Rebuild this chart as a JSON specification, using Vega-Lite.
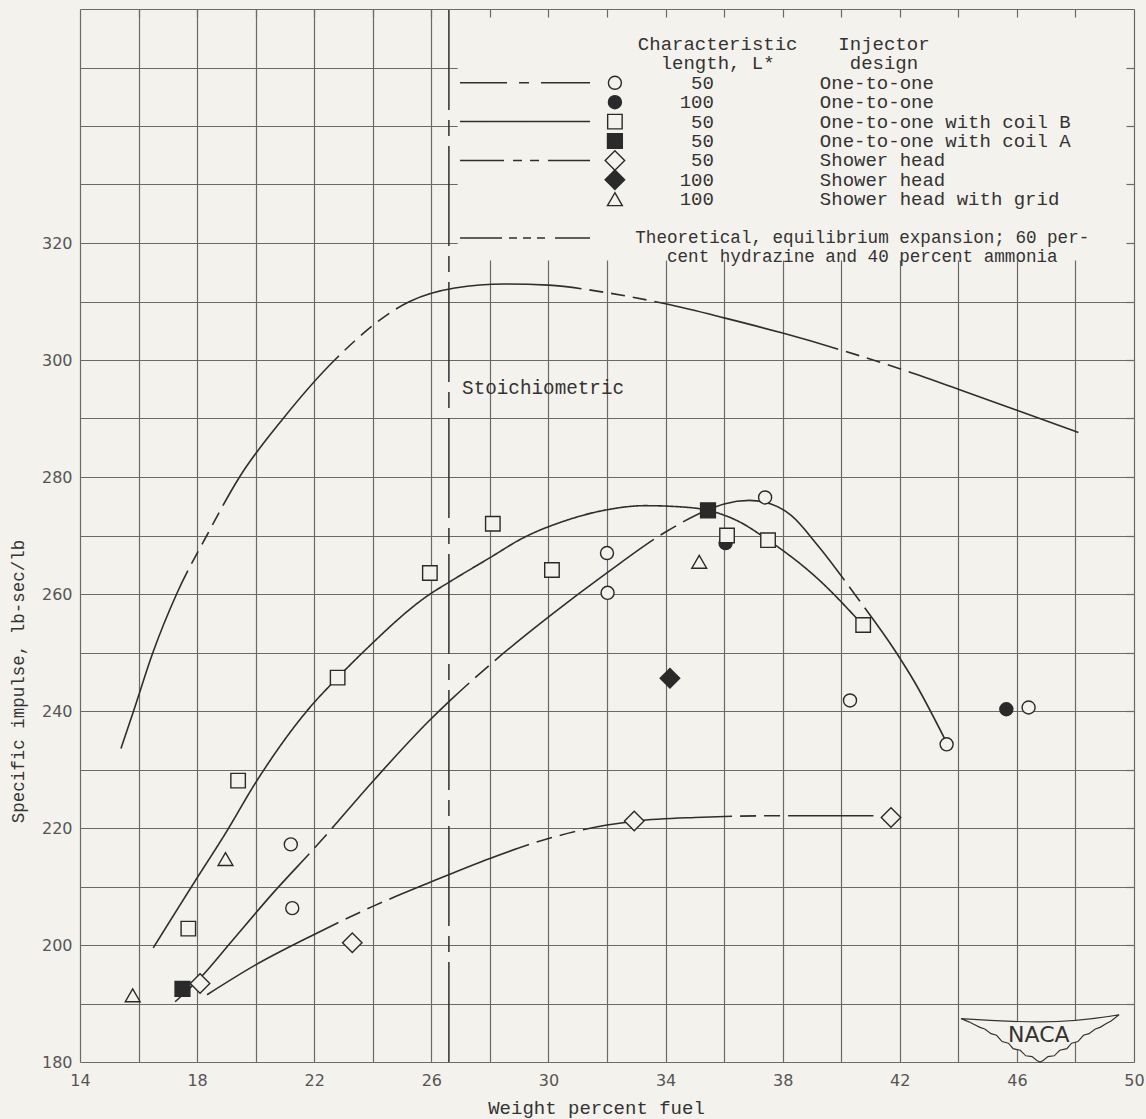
{
"$schema":"https://vega.github.io/schema/vega-lite/v6.json",
"width":1054,"height":1053,
"autosize":{"type":"none"},
"padding":{"left":80,"top":9,"right":12,"bottom":57},
"background":"#f4f2ed",
"config":{"view":{"stroke":null}},
"datasets":{
"points":[
{"series":"One-to-one, 50","fuel":21.2,"isp":217.2},
{"series":"One-to-one, 50","fuel":21.25,"isp":206.3},
{"series":"One-to-one, 50","fuel":32.0,"isp":267.0},
{"series":"One-to-one, 50","fuel":32.02,"isp":260.2},
{"series":"One-to-one, 50","fuel":37.4,"isp":276.5},
{"series":"One-to-one, 50","fuel":40.3,"isp":241.8},
{"series":"One-to-one, 50","fuel":43.6,"isp":234.3},
{"series":"One-to-one, 50","fuel":46.4,"isp":240.6},
{"series":"One-to-one, 100","fuel":36.05,"isp":268.7},
{"series":"One-to-one, 100","fuel":45.64,"isp":240.3},
{"series":"One-to-one with coil B, 50","fuel":17.7,"isp":202.8},
{"series":"One-to-one with coil B, 50","fuel":19.4,"isp":228.1},
{"series":"One-to-one with coil B, 50","fuel":22.8,"isp":245.7},
{"series":"One-to-one with coil B, 50","fuel":25.95,"isp":263.6},
{"series":"One-to-one with coil B, 50","fuel":28.1,"isp":272.0},
{"series":"One-to-one with coil B, 50","fuel":30.12,"isp":264.1},
{"series":"One-to-one with coil B, 50","fuel":36.1,"isp":270.0},
{"series":"One-to-one with coil B, 50","fuel":37.5,"isp":269.2},
{"series":"One-to-one with coil B, 50","fuel":40.75,"isp":254.7},
{"series":"One-to-one with coil A, 50","fuel":17.5,"isp":192.5},
{"series":"One-to-one with coil A, 50","fuel":35.45,"isp":274.3},
{"series":"Shower head, 50","fuel":18.1,"isp":193.4},
{"series":"Shower head, 50","fuel":23.3,"isp":200.4},
{"series":"Shower head, 50","fuel":32.93,"isp":221.2},
{"series":"Shower head, 50","fuel":41.7,"isp":221.8},
{"series":"Shower head, 100","fuel":34.15,"isp":245.6},
{"series":"Shower head with grid, 100","fuel":15.8,"isp":191.4},
{"series":"Shower head with grid, 100","fuel":18.97,"isp":214.7},
{"series":"Shower head with grid, 100","fuel":35.15,"isp":265.5}
],
"curves":[
{"curve":"Theoretical","fuel":15.4,"isp":233.6},
{"curve":"Theoretical","fuel":15.83,"isp":240.0},
{"curve":"Theoretical","fuel":16.49,"isp":250.0},
{"curve":"Theoretical","fuel":17.3,"isp":260.0},
{"curve":"Theoretical","fuel":18.33,"isp":270.0},
{"curve":"Theoretical","fuel":19.45,"isp":280.0},
{"curve":"Theoretical","fuel":20.94,"isp":290.0},
{"curve":"Theoretical","fuel":22.7,"isp":300.0},
{"curve":"Theoretical","fuel":25.26,"isp":310.0},
{"curve":"Theoretical","fuel":26.8,"isp":312.3},
{"curve":"Theoretical","fuel":28.5,"isp":313.0},
{"curve":"Theoretical","fuel":30.0,"isp":312.8},
{"curve":"Theoretical","fuel":32.0,"isp":311.5},
{"curve":"Theoretical","fuel":34.0,"isp":309.6},
{"curve":"Theoretical","fuel":36.0,"isp":307.2},
{"curve":"Theoretical","fuel":38.0,"isp":304.6},
{"curve":"Theoretical","fuel":40.0,"isp":301.7},
{"curve":"Theoretical","fuel":42.0,"isp":298.5},
{"curve":"Theoretical","fuel":44.0,"isp":295.0},
{"curve":"Theoretical","fuel":46.0,"isp":291.4},
{"curve":"Theoretical","fuel":48.1,"isp":287.6},
{"curve":"One-to-one with coil B, 50","fuel":16.5,"isp":199.5},
{"curve":"One-to-one with coil B, 50","fuel":17.94,"isp":211.0},
{"curve":"One-to-one with coil B, 50","fuel":18.97,"isp":219.1},
{"curve":"One-to-one with coil B, 50","fuel":20.03,"isp":228.0},
{"curve":"One-to-one with coil B, 50","fuel":21.85,"isp":240.6},
{"curve":"One-to-one with coil B, 50","fuel":22.8,"isp":245.7},
{"curve":"One-to-one with coil B, 50","fuel":23.78,"isp":250.6},
{"curve":"One-to-one with coil B, 50","fuel":25.9,"isp":259.8},
{"curve":"One-to-one with coil B, 50","fuel":26.6,"isp":262.0},
{"curve":"One-to-one with coil B, 50","fuel":28.0,"isp":266.2},
{"curve":"One-to-one with coil B, 50","fuel":29.14,"isp":269.6},
{"curve":"One-to-one with coil B, 50","fuel":30.5,"isp":272.4},
{"curve":"One-to-one with coil B, 50","fuel":32.0,"isp":274.4},
{"curve":"One-to-one with coil B, 50","fuel":33.3,"isp":275.1},
{"curve":"One-to-one with coil B, 50","fuel":34.5,"isp":274.9},
{"curve":"One-to-one with coil B, 50","fuel":35.45,"isp":274.3},
{"curve":"One-to-one with coil B, 50","fuel":36.5,"isp":272.4},
{"curve":"One-to-one with coil B, 50","fuel":37.45,"isp":269.4},
{"curve":"One-to-one with coil B, 50","fuel":39.2,"isp":262.6},
{"curve":"One-to-one with coil B, 50","fuel":40.7,"isp":254.9},
{"curve":"One-to-one, 50","fuel":17.25,"isp":190.3},
{"curve":"One-to-one, 50","fuel":18.11,"isp":194.4},
{"curve":"One-to-one, 50","fuel":19.19,"isp":200.7},
{"curve":"One-to-one, 50","fuel":20.56,"isp":208.7},
{"curve":"One-to-one, 50","fuel":22.14,"isp":217.3},
{"curve":"One-to-one, 50","fuel":24.06,"isp":228.3},
{"curve":"One-to-one, 50","fuel":25.9,"isp":238.2},
{"curve":"One-to-one, 50","fuel":26.6,"isp":241.6},
{"curve":"One-to-one, 50","fuel":28.0,"isp":247.9},
{"curve":"One-to-one, 50","fuel":30.06,"isp":256.3},
{"curve":"One-to-one, 50","fuel":32.02,"isp":263.7},
{"curve":"One-to-one, 50","fuel":34.0,"isp":270.6},
{"curve":"One-to-one, 50","fuel":35.45,"isp":274.4},
{"curve":"One-to-one, 50","fuel":36.0,"isp":275.4},
{"curve":"One-to-one, 50","fuel":36.86,"isp":276.0},
{"curve":"One-to-one, 50","fuel":37.6,"isp":275.4},
{"curve":"One-to-one, 50","fuel":38.3,"isp":273.4},
{"curve":"One-to-one, 50","fuel":39.2,"isp":268.3},
{"curve":"One-to-one, 50","fuel":40.5,"isp":259.7},
{"curve":"One-to-one, 50","fuel":41.8,"isp":250.6},
{"curve":"One-to-one, 50","fuel":42.5,"isp":245.0},
{"curve":"One-to-one, 50","fuel":43.6,"isp":234.6},
{"curve":"Shower head, 50","fuel":18.34,"isp":191.5},
{"curve":"Shower head, 50","fuel":20.0,"isp":196.6},
{"curve":"Shower head, 50","fuel":22.0,"isp":201.8},
{"curve":"Shower head, 50","fuel":24.0,"isp":206.6},
{"curve":"Shower head, 50","fuel":26.0,"isp":210.8},
{"curve":"Shower head, 50","fuel":28.0,"isp":214.8},
{"curve":"Shower head, 50","fuel":30.0,"isp":218.2},
{"curve":"Shower head, 50","fuel":32.0,"isp":220.5},
{"curve":"Shower head, 50","fuel":33.0,"isp":221.2},
{"curve":"Shower head, 50","fuel":35.0,"isp":221.8},
{"curve":"Shower head, 50","fuel":38.0,"isp":222.1},
{"curve":"Shower head, 50","fuel":41.1,"isp":222.1}
],
"legend":[
{"row":1,"series":"One-to-one, 50","lstar":"50","injector":"One-to-one"},
{"row":2,"series":"One-to-one, 100","lstar":"100","injector":"One-to-one"},
{"row":3,"series":"One-to-one with coil B, 50","lstar":"50","injector":"One-to-one with coil B"},
{"row":4,"series":"One-to-one with coil A, 50","lstar":"50","injector":"One-to-one with coil A"},
{"row":5,"series":"Shower head, 50","lstar":"50","injector":"Shower head"},
{"row":6,"series":"Shower head, 100","lstar":"100","injector":"Shower head"},
{"row":7,"series":"Shower head with grid, 100","lstar":"100","injector":"Shower head with grid"}
],
"legendLines":[
{"row":1,"curve":"One-to-one, 50"},
{"row":3,"curve":"One-to-one with coil B, 50"},
{"row":5,"curve":"Shower head, 50"},
{"row":9,"curve":"Theoretical"}
],
"notes":[
{"row":9,"text":"Theoretical, equilibrium expansion; 60 per-"},
{"row":10,"text":"cent hydrazine and 40 percent ammonia"}
]
},
"layer":[
{"data":{"values":[{}]},
 "mark":{"type":"rect","fill":"#f4f2ed"},
 "encoding":{
  "x":{"datum":26.9,"type":"quantitative","scale":{"domain":[14,50],"nice":false,"zero":false},
   "axis":{"orient":"bottom","values":[14,16,18,20,22,24,26,28,30,32,34,36,38,40,42,44,46,48,50],"grid":true,"gridColor":"#6a6a6a","gridWidth":1.2,"gridOpacity":1,"ticks":false,"domain":false,
    "labelExpr":"(datum.value - 14) % 4 == 0 ? datum.label : ''","labelOverlap":false,"labelFlush":false,"labelBound":false,
    "labelFont":"DejaVu Sans","labelFontSize":16,"labelColor":"#555","labelPadding":10,
    "title":"Weight percent fuel","titleFont":"Liberation Mono","titleFontSize":19,"titleFontWeight":"normal","titleColor":"#333","titleX":516,"titleY":45,"titleBaseline":"middle","zindex":0}},
  "x2":{"datum":49.96},
  "y":{"datum":317,"type":"quantitative","scale":{"domain":[180,360],"nice":false,"zero":false},
   "axis":{"orient":"left","values":[180,190,200,210,220,230,240,250,260,270,280,290,300,310,320,330,340,350,360],"grid":true,"gridColor":"#6a6a6a","gridWidth":1.2,"gridOpacity":1,"ticks":false,"domain":false,
    "labelExpr":"datum.value <= 320 && datum.value % 20 == 0 ? datum.label : ''","labelOverlap":false,"labelFlush":false,"labelBound":false,
    "labelFont":"DejaVu Sans","labelFontSize":16,"labelColor":"#555","labelPadding":8,
    "title":"Specific impulse, lb-sec/lb","titleFont":"Liberation Mono","titleFontSize":17.5,"titleFontWeight":"normal","titleColor":"#333","titleX":-62,"titleY":672,"titleBaseline":"middle","zindex":0}},
  "y2":{"datum":359.85}}},
{"data":{"values":[{}]},
 "mark":{"type":"rule","strokeWidth":1.5,"color":"#2e2e2e","strokeDash":[100,10,16,10]},
 "encoding":{
  "x":{"datum":26.6,"type":"quantitative","scale":{"domain":[14,50],"nice":false,"zero":false},
   "axis":{"orient":"top","values":[16,18,20,22,24,26,28,30,32,34,36,38,40,42,44,46,48],"grid":false,"labels":false,"domain":false,"ticks":true,"tickSize":-8,"tickColor":"#6a6a6a","tickWidth":1.2,"title":null,"zindex":1}},
  "y":{"datum":180,"type":"quantitative","scale":{"domain":[180,360],"nice":false,"zero":false},
   "axis":{"orient":"right","values":[190,200,210,220,230,240,250,260,270,280,290,300,310,320,330,340,350],"grid":false,"labels":false,"domain":false,"ticks":true,"tickSize":-8,"tickColor":"#6a6a6a","tickWidth":1.2,"title":null,"zindex":1}},
  "y2":{"datum":360}}},
{"data":{"name":"curves"},
 "mark":{"type":"line","interpolate":"monotone","strokeWidth":1.6,"color":"#2e2e2e"},
 "encoding":{
  "x":{"field":"fuel","type":"quantitative","scale":{"domain":[14,50],"nice":false,"zero":false},"axis":null},
  "y":{"field":"isp","type":"quantitative","scale":{"domain":[180,360],"nice":false,"zero":false},"axis":null},
  "strokeDash":{"field":"curve","type":"nominal","legend":null,
   "scale":{"domain":["One-to-one, 50","One-to-one with coil B, 50","Shower head, 50","Theoretical"],
    "range":[[200,8,18,8],[1,0],[150,8,16,8,16,8],[190,8,14,8,14,8,14,8]]}}}},
{"data":{"name":"points"},
 "mark":{"type":"point","filled":true,"stroke":"#2a2a2a","strokeWidth":1.4,"opacity":1},
 "encoding":{
  "x":{"field":"fuel","type":"quantitative","scale":{"domain":[14,50],"nice":false,"zero":false},"axis":null},
  "y":{"field":"isp","type":"quantitative","scale":{"domain":[180,360],"nice":false,"zero":false},"axis":null},
  "shape":{"field":"series","type":"nominal","legend":null,
   "scale":{"domain":["One-to-one, 50","One-to-one, 100","One-to-one with coil B, 50","One-to-one with coil A, 50","Shower head, 50","Shower head, 100","Shower head with grid, 100"],
    "range":["circle","circle","square","square","diamond","diamond","triangle-up"]}},
  "fill":{"field":"series","type":"nominal","legend":null,
   "scale":{"domain":["One-to-one, 50","One-to-one, 100","One-to-one with coil B, 50","One-to-one with coil A, 50","Shower head, 50","Shower head, 100","Shower head with grid, 100"],
    "range":["#f4f2ed","#2a2a2a","#f4f2ed","#2a2a2a","#f4f2ed","#2a2a2a","#f4f2ed"]}},
  "size":{"field":"series","type":"ordinal","legend":null,
   "scale":{"type":"ordinal","domain":["One-to-one, 50","One-to-one, 100","One-to-one with coil B, 50","One-to-one with coil A, 50","Shower head, 50","Shower head, 100","Shower head with grid, 100"],
    "range":[170,170,210,220,380,380,220]}}}},
{"data":{"values":[{}]},
 "mark":{"type":"text","text":"Stoichiometric","align":"left","baseline":"middle","font":"Liberation Mono","fontSize":19.3,"fill":"#333"},
 "encoding":{
  "x":{"datum":27.05,"type":"quantitative","scale":{"domain":[14,50],"nice":false,"zero":false},"axis":null},
  "y":{"datum":295.2,"type":"quantitative","scale":{"domain":[180,360],"nice":false,"zero":false},"axis":null}}},
{"data":{"values":[{}]},
 "mark":{"type":"point","shape":"M-1,-0.23 C-0.6,-0.2 -0.3,-0.19 0,-0.19 C0.3,-0.19 0.6,-0.21 1,-0.28 L0.9,-0.2 L0.84,-0.17 L0.76,-0.12 L0.7,-0.1 L0.62,-0.04 L0.55,-0.02 L0.48,0.06 L0.4,0.08 L0.34,0.15 L0.25,0.17 L0.18,0.24 L0.1,0.25 L0.04,0.3 L0,0.32 L-0.04,0.3 L-0.1,0.25 L-0.18,0.24 L-0.25,0.17 L-0.34,0.15 L-0.4,0.08 L-0.48,0.06 L-0.55,-0.02 L-0.62,-0.04 L-0.7,-0.1 L-0.76,-0.12 L-0.84,-0.16 L-0.9,-0.19 Z","size":24964,"filled":true,"fill":"#f4f2ed","stroke":"#333","strokeWidth":1.2,"opacity":1},
 "encoding":{
  "x":{"datum":46.79,"type":"quantitative","scale":{"domain":[14,50],"nice":false,"zero":false},"axis":null},
  "y":{"datum":184.3,"type":"quantitative","scale":{"domain":[180,360],"nice":false,"zero":false},"axis":null}}},
{"data":{"values":[{}]},
 "mark":{"type":"text","text":"NACA","align":"center","baseline":"middle","font":"DejaVu Sans","fontSize":22,"fill":"#333"},
 "encoding":{
  "x":{"datum":46.75,"type":"quantitative","scale":{"domain":[14,50],"nice":false,"zero":false},"axis":null},
  "y":{"datum":184.7,"type":"quantitative","scale":{"domain":[180,360],"nice":false,"zero":false},"axis":null}}},
{"data":{"values":[{}]},
 "mark":{"type":"text","text":"Characteristic\nlength, L*","lineBreak":"\n","lineHeight":19.4,"align":"center","baseline":"middle","font":"Liberation Mono","fontSize":19,"fill":"#333"},
 "encoding":{
  "x":{"datum":35.78,"type":"quantitative","scale":{"domain":[14,50],"nice":false,"zero":false},"axis":null},
  "y":{"datum":-1,"type":"quantitative","scale":{"domain":[-2.804,51.476],"reverse":true,"nice":false,"zero":false},"axis":null}}},
{"data":{"values":[{}]},
 "mark":{"type":"text","text":"Injector\ndesign","lineBreak":"\n","lineHeight":19.4,"align":"center","baseline":"middle","font":"Liberation Mono","fontSize":19,"fill":"#333"},
 "encoding":{
  "x":{"datum":41.46,"type":"quantitative","scale":{"domain":[14,50],"nice":false,"zero":false},"axis":null},
  "y":{"datum":-1,"type":"quantitative","scale":{"domain":[-2.804,51.476],"reverse":true,"nice":false,"zero":false},"axis":null}}},
{"data":{"name":"legendLines"},
 "mark":{"type":"rule","strokeWidth":1.5,"color":"#2e2e2e"},
 "encoding":{
  "x":{"datum":26.98,"type":"quantitative","scale":{"domain":[14,50],"nice":false,"zero":false},"axis":null},
  "x2":{"datum":31.42},
  "y":{"field":"row","type":"quantitative","scale":{"domain":[-2.804,51.476],"reverse":true,"nice":false,"zero":false},"axis":null},
  "strokeDash":{"field":"curve","type":"nominal","legend":null,
   "scale":{"domain":["One-to-one, 50","One-to-one with coil B, 50","Shower head, 50","Theoretical"],
    "range":[[47,12,10,12,80],[1,0],[44,9,9,8,9,9,80],[42,7,8,6,8,6,8,10,80]]}}}},
{"data":{"name":"legend"},
 "mark":{"type":"point","filled":true,"stroke":"#2a2a2a","strokeWidth":1.4,"opacity":1},
 "encoding":{
  "x":{"datum":32.27,"type":"quantitative","scale":{"domain":[14,50],"nice":false,"zero":false},"axis":null},
  "y":{"field":"row","type":"quantitative","scale":{"domain":[-2.804,51.476],"reverse":true,"nice":false,"zero":false},"axis":null},
  "shape":{"field":"series","type":"nominal","legend":null,
   "scale":{"domain":["One-to-one, 50","One-to-one, 100","One-to-one with coil B, 50","One-to-one with coil A, 50","Shower head, 50","Shower head, 100","Shower head with grid, 100"],
    "range":["circle","circle","square","square","diamond","diamond","triangle-up"]}},
  "fill":{"field":"series","type":"nominal","legend":null,
   "scale":{"domain":["One-to-one, 50","One-to-one, 100","One-to-one with coil B, 50","One-to-one with coil A, 50","Shower head, 50","Shower head, 100","Shower head with grid, 100"],
    "range":["#f4f2ed","#2a2a2a","#f4f2ed","#2a2a2a","#f4f2ed","#2a2a2a","#f4f2ed"]}},
  "size":{"field":"series","type":"ordinal","legend":null,
   "scale":{"type":"ordinal","domain":["One-to-one, 50","One-to-one, 100","One-to-one with coil B, 50","One-to-one with coil A, 50","Shower head, 50","Shower head, 100","Shower head with grid, 100"],
    "range":[170,170,210,220,380,380,220]}}}},
{"data":{"name":"legend"},
 "mark":{"type":"text","align":"right","baseline":"middle","font":"Liberation Mono","fontSize":19,"fill":"#333"},
 "encoding":{
  "x":{"datum":35.65,"type":"quantitative","scale":{"domain":[14,50],"nice":false,"zero":false},"axis":null},
  "y":{"field":"row","type":"quantitative","scale":{"domain":[-2.804,51.476],"reverse":true,"nice":false,"zero":false},"axis":null},
  "text":{"field":"lstar"}}},
{"data":{"name":"legend"},
 "mark":{"type":"text","align":"left","baseline":"middle","font":"Liberation Mono","fontSize":19,"fill":"#333"},
 "encoding":{
  "x":{"datum":39.27,"type":"quantitative","scale":{"domain":[14,50],"nice":false,"zero":false},"axis":null},
  "y":{"field":"row","type":"quantitative","scale":{"domain":[-2.804,51.476],"reverse":true,"nice":false,"zero":false},"axis":null},
  "text":{"field":"injector"}}},
{"data":{"name":"notes"},
 "mark":{"type":"text","align":"center","baseline":"middle","font":"Liberation Mono","fontSize":17.6,"fill":"#333"},
 "encoding":{
  "x":{"datum":40.72,"type":"quantitative","scale":{"domain":[14,50],"nice":false,"zero":false},"axis":null},
  "y":{"field":"row","type":"quantitative","scale":{"domain":[-2.804,51.476],"reverse":true,"nice":false,"zero":false},"axis":null},
  "text":{"field":"text"}}}
],
"resolve":{"scale":{"y":"independent","strokeDash":"independent"},"axis":{"x":"independent","y":"independent"}}
}
